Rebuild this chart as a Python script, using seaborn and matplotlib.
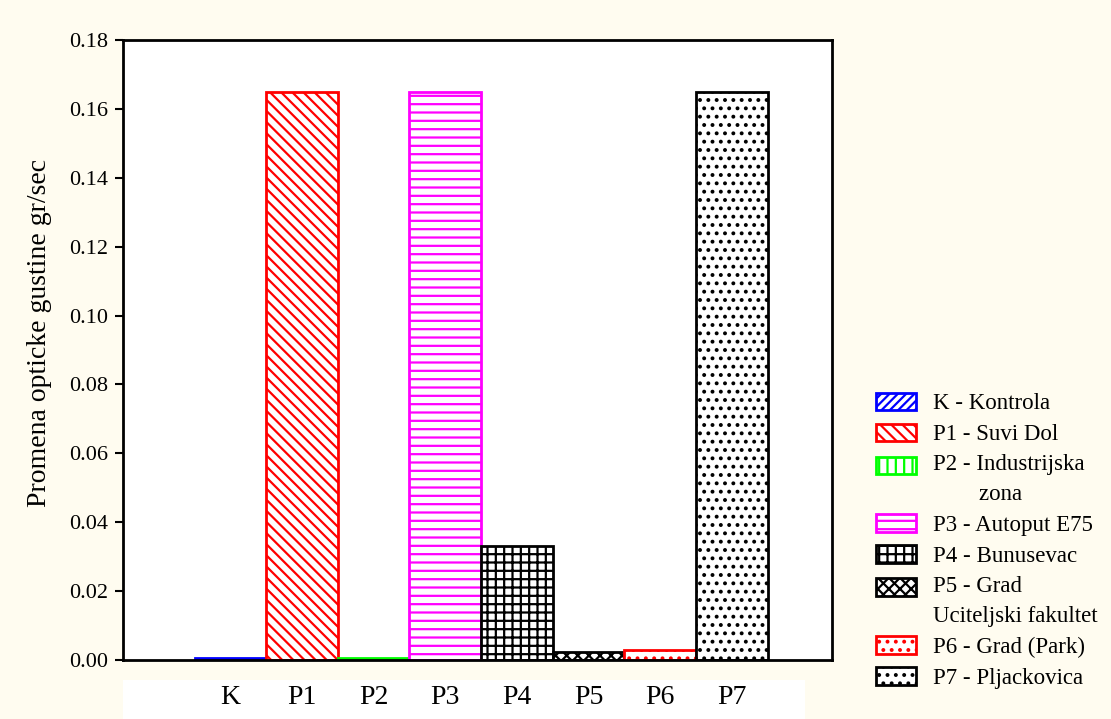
import numpy as np
import pandas as pd
import matplotlib
matplotlib.use("Agg")
from matplotlib import pyplot as plt
from matplotlib.patches import Patch, Rectangle
from matplotlib.legend_handler import HandlerPatch
import seaborn as sns

# data
categories = ['K', 'P1', 'P2', 'P3', 'P4', 'P5', 'P6', 'P7']
values = [0.0005, 0.165, 0.0006, 0.165, 0.033, 0.0022, 0.0028, 0.165]
legend_labels = ['K - Kontrola', 'P1 - Suvi Dol', 'P2 - Industrijska\n        zona',
                 'P3 - Autoput E75', 'P4 - Bunusevac', 'P5 - Grad\nUciteljski fakultet',
                 'P6 - Grad (Park)', 'P7 - Pljackovica']
edge_colors = ['#0000ff', '#ff0000', '#00ff00', '#ff00ff', '#000000', '#000000', '#ff0000', '#000000']
hatches = ['////', '\\\\\\', '||', '--', '++', 'xxx', '..', '..']
yticks = [0.00, 0.02, 0.04, 0.06, 0.08, 0.10, 0.12, 0.14, 0.16, 0.18]


class TopHandler(HandlerPatch):
    # legend box lifted up to sit next to the first line of a two-line label
    def __init__(self, shift=0, **kw):
        super().__init__(**kw)
        self.shift = shift

    def create_artists(self, legend, orig_handle, xdescent, ydescent, width, height, fontsize, trans):
        p = Rectangle((-xdescent, -ydescent + self.shift), width, height)
        self.update_prop(p, orig_handle, legend)
        p.set_transform(trans)
        return [p]


sns.set_style('white')
plt.rcParams['font.family'] = ['Liberation Serif', 'DejaVu Serif']
plt.rcParams['hatch.linewidth'] = 1.6
plt.rcParams['text.color'] = 'black'
plt.rcParams['xtick.color'] = 'black'
plt.rcParams['ytick.color'] = 'black'

df = pd.DataFrame({'cat': categories, 'val': values})

fig = plt.figure(figsize=(11.11, 7.19), dpi=100, facecolor='#fffcf0')
# white box behind the category labels
fig.patches.append(Rectangle((123/1111, 0), (805-123)/1111, 1-680/719,
                             transform=fig.transFigure, facecolor='white', edgecolor='none', zorder=-5))
ax = fig.add_axes([123/1111, 1-660/719, (832-123)/1111, (660-40)/719])
ax.set_facecolor('white')

sns.barplot(data=df, x='cat', y='val', hue='cat', palette=edge_colors, legend=False,
            width=1.0, ax=ax, saturation=1)

for bar, ec, h in zip(ax.patches, edge_colors, hatches):
    bar.set_facecolor('white')
    bar.set_edgecolor(ec)
    bar.set_hatch(h)
    bar.set_linewidth(2)

ax.set_xlim(-1.5, 8.4)
ax.set_ylim(0, 0.18)
ax.set_yticks(yticks)
ax.set_yticklabels([f'{t:.2f}' for t in yticks], fontsize=16)
ax.tick_params(axis='y', direction='out', length=6, width=1.5, left=True, pad=5)
ax.tick_params(axis='x', length=0, labelsize=20, pad=18)
ax.set_xlabel('')
ax.set_ylabel('')
for s in ax.spines.values():
    s.set_linewidth(2)
    s.set_color('black')

fig.text(40/1111, 1-333/719, 'Promena opticke gustine gr/sec', rotation=90,
         ha='center', va='center', fontsize=20)

handles = [Patch(facecolor='white', edgecolor=c, hatch=h, linewidth=2)
           for c, h in zip(edge_colors, hatches)]
hmap = {hd: TopHandler(shift=10.5 if '\n' in lab else 0) for hd, lab in zip(handles, legend_labels)}
leg = fig.legend(handles, legend_labels, loc='upper left', bbox_to_anchor=(855/1111, 1-372/719),
                 frameon=False, fontsize=16.5, handlelength=1.75, handleheight=0.8,
                 labelspacing=0.4, handletextpad=0.75, handler_map=hmap)
for t in leg.get_texts():
    t.set_linespacing(1.55)

fig.savefig('out.png', dpi=100, facecolor=fig.get_facecolor())
